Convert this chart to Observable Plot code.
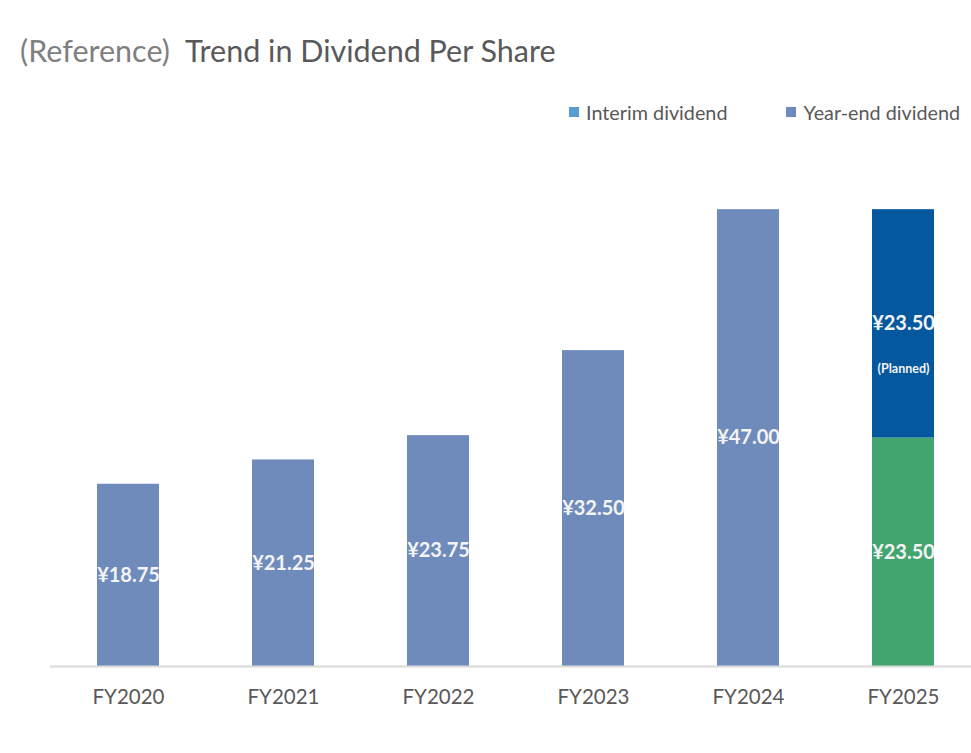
<!DOCTYPE html>
<html>
<head>
<meta charset="utf-8">
<script src="https://cdn.jsdelivr.net/npm/d3@7"></script>
<script src="https://cdn.jsdelivr.net/npm/@observablehq/plot@0.6"></script>
<style>
  html, body { margin: 0; padding: 0; background: #fff; }
  #wrap { position: relative; width: 971px; height: 753px; font-family: Lato, "Noto Sans", sans-serif; }
  #title { position: absolute; left: 20px; top: 35px; font-size: 30.5px; line-height: 1; color: #595959; white-space: nowrap; }
  #title .ref { color: #7f7f7f; font-weight: 400; margin-right: 15px; }
  #legend { position: absolute; top: 101px; left: 569px; font-size: 19.8px; line-height: 22px; color: #595959; display: flex; white-space: nowrap; }
  .item { display: flex; align-items: center; }
  .sw { width: 10px; height: 10px; margin-right: 7px; }
  #chart { position: absolute; left: 0; top: 0; }
</style>
</head>
<body>
<div id="wrap">
  <div id="chart"></div>
  <div id="title"><span class="ref">(Reference)</span>Trend in Dividend Per Share</div>
  <div id="legend"></div>
</div>
<script>
// Data
const years = ["FY2020", "FY2021", "FY2022", "FY2023", "FY2024", "FY2025"];
const annualDividend = [18.75, 21.25, 23.75, 32.50, 47.00];   // FY2020–FY2024
const fy2025Interim = 23.50;
const fy2025YearEndPlanned = 23.50;
const legendLabels = ["Interim dividend", "Year-end dividend"];

// Colours
const legendColors = ["#5B9BD5", "#6F8BBC"];
const colYearEnd = "#6F8BBC";
const colInterim25 = "#42A46F";
const colPlanned25 = "#04589E";

// Build rows
const rows = [];
annualDividend.forEach((v, i) => rows.push({year: years[i], part: "Year-end", value: v, planned: false}));
rows.push({year: "FY2025", part: "Interim", value: fy2025Interim, planned: false});
rows.push({year: "FY2025", part: "Year-end", value: fy2025YearEndPlanned, planned: true});

const fillOf = d => d.year === "FY2025" ? (d.part === "Interim" ? colInterim25 : colPlanned25) : colYearEnd;

const chart = Plot.plot({
  width: 971,
  height: 753,
  marginTop: 180,
  marginBottom: 87,
  marginLeft: 97,
  marginRight: 37,
  style: {fontFamily: "Lato, 'Noto Sans', sans-serif", fontSize: "20.5px", color: "#595959", background: "transparent", overflow: "visible"},
  x: {domain: years, padding: 0.6, paddingOuter: 0, label: null, tickSize: 0, tickPadding: 23},
  y: {domain: [0, 50], axis: null},
  marks: [
    Plot.barY(rows, {x: "year", y: "value", fill: fillOf, order: null}),
    Plot.ruleY([0], {stroke: "#d9d9d9", strokeWidth: 2, insetLeft: -47, insetRight: -37}),
    Plot.text(rows, Plot.stackY({x: "year", y: "value", order: null,
      text: d => "¥" + d.value.toFixed(2),
      fill: "#f4f4f4", fontWeight: "bold", fontSize: 20})),
    Plot.text(rows, Plot.stackY({x: "year", y: "value", order: null,
      text: d => d.planned ? "(Planned)" : null,
      dy: 45, fill: "#f4f4f4", fontWeight: "bold", fontSize: 12.5}))
  ]
});
document.getElementById("chart").appendChild(chart);

// Legend
const legend = document.getElementById("legend");
legendLabels.forEach((lab, i) => {
  const it = document.createElement("div");
  it.className = "item";
  if (i > 0) it.style.marginLeft = "59px";
  const sw = document.createElement("div");
  sw.className = "sw";
  sw.style.background = legendColors[i];
  const t = document.createElement("span");
  t.textContent = lab;
  it.appendChild(sw); it.appendChild(t);
  legend.appendChild(it);
});
</script>
</body>
</html>
